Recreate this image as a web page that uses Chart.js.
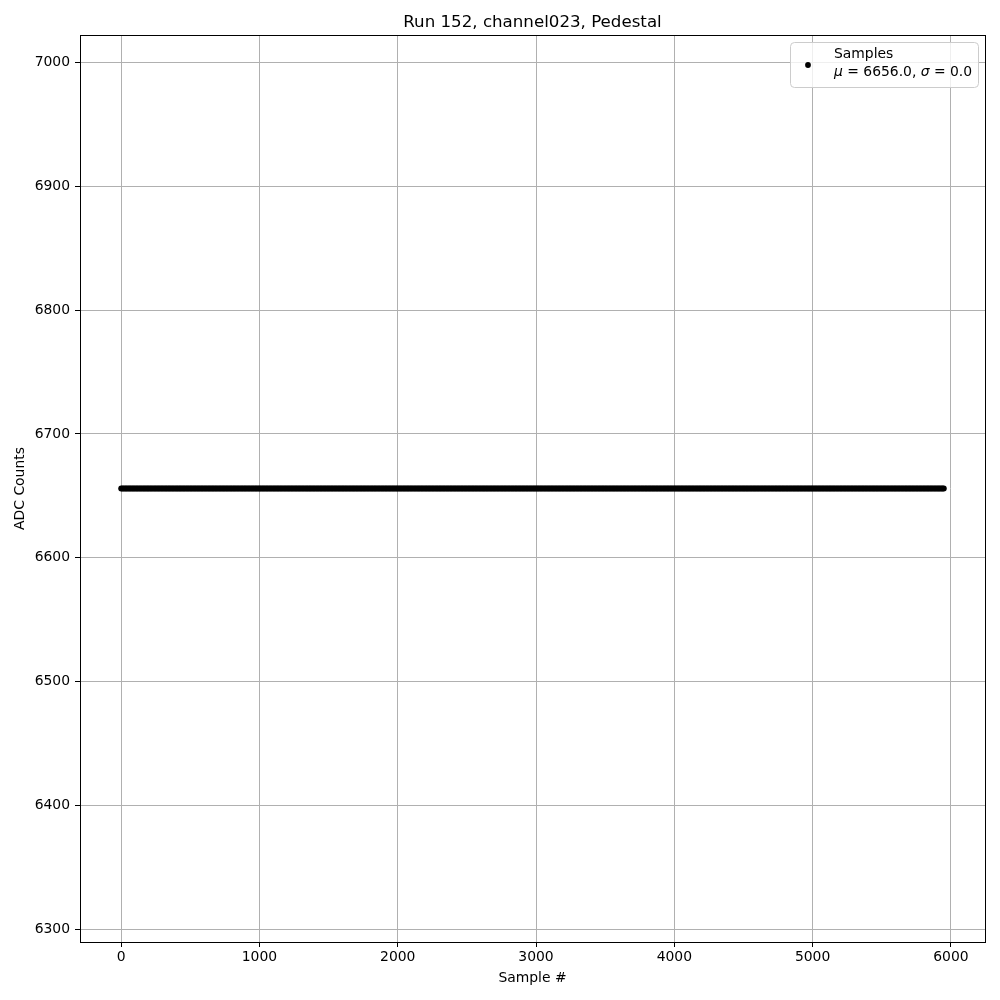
<!DOCTYPE html>
<html><head><meta charset="utf-8">
<script src="https://cdn.jsdelivr.net/npm/chart.js@4/dist/chart.umd.min.js"></script>
<style>html,body{margin:0;padding:0;background:#fff}canvas{display:block}</style>
</head><body>
<canvas id="c" width="1000" height="1000"></canvas>
<script>
const chartTitle = 'Run 152, channel023, Pedestal';
const xAxisLabel = 'Sample #';
const yAxisLabel = 'ADC Counts';
const seriesLabel = 'Samples';
const xTicks = [0, 1000, 2000, 3000, 4000, 5000, 6000];
const yTicks = [6300, 6400, 6500, 6600, 6700, 6800, 6900, 7000];
const xLimits = [-297.45, 6246.45];
const yLimits = [6289.9, 7022.1];

// Sample numbers (every 10th sample shown, plus the last one)
const sampleNumbers = [
0,10,20,30,40,50,60,70,80,90,100,110,120,130,140,150,160,170,180,190,200,210,220,230,240,
250,260,270,280,290,300,310,320,330,340,350,360,370,380,390,400,410,420,430,440,450,460,470,480,490,
500,510,520,530,540,550,560,570,580,590,600,610,620,630,640,650,660,670,680,690,700,710,720,730,740,
750,760,770,780,790,800,810,820,830,840,850,860,870,880,890,900,910,920,930,940,950,960,970,980,990,
1000,1010,1020,1030,1040,1050,1060,1070,1080,1090,1100,1110,1120,1130,1140,1150,1160,1170,1180,1190,1200,1210,1220,1230,1240,
1250,1260,1270,1280,1290,1300,1310,1320,1330,1340,1350,1360,1370,1380,1390,1400,1410,1420,1430,1440,1450,1460,1470,1480,1490,
1500,1510,1520,1530,1540,1550,1560,1570,1580,1590,1600,1610,1620,1630,1640,1650,1660,1670,1680,1690,1700,1710,1720,1730,1740,
1750,1760,1770,1780,1790,1800,1810,1820,1830,1840,1850,1860,1870,1880,1890,1900,1910,1920,1930,1940,1950,1960,1970,1980,1990,
2000,2010,2020,2030,2040,2050,2060,2070,2080,2090,2100,2110,2120,2130,2140,2150,2160,2170,2180,2190,2200,2210,2220,2230,2240,
2250,2260,2270,2280,2290,2300,2310,2320,2330,2340,2350,2360,2370,2380,2390,2400,2410,2420,2430,2440,2450,2460,2470,2480,2490,
2500,2510,2520,2530,2540,2550,2560,2570,2580,2590,2600,2610,2620,2630,2640,2650,2660,2670,2680,2690,2700,2710,2720,2730,2740,
2750,2760,2770,2780,2790,2800,2810,2820,2830,2840,2850,2860,2870,2880,2890,2900,2910,2920,2930,2940,2950,2960,2970,2980,2990,
3000,3010,3020,3030,3040,3050,3060,3070,3080,3090,3100,3110,3120,3130,3140,3150,3160,3170,3180,3190,3200,3210,3220,3230,3240,
3250,3260,3270,3280,3290,3300,3310,3320,3330,3340,3350,3360,3370,3380,3390,3400,3410,3420,3430,3440,3450,3460,3470,3480,3490,
3500,3510,3520,3530,3540,3550,3560,3570,3580,3590,3600,3610,3620,3630,3640,3650,3660,3670,3680,3690,3700,3710,3720,3730,3740,
3750,3760,3770,3780,3790,3800,3810,3820,3830,3840,3850,3860,3870,3880,3890,3900,3910,3920,3930,3940,3950,3960,3970,3980,3990,
4000,4010,4020,4030,4040,4050,4060,4070,4080,4090,4100,4110,4120,4130,4140,4150,4160,4170,4180,4190,4200,4210,4220,4230,4240,
4250,4260,4270,4280,4290,4300,4310,4320,4330,4340,4350,4360,4370,4380,4390,4400,4410,4420,4430,4440,4450,4460,4470,4480,4490,
4500,4510,4520,4530,4540,4550,4560,4570,4580,4590,4600,4610,4620,4630,4640,4650,4660,4670,4680,4690,4700,4710,4720,4730,4740,
4750,4760,4770,4780,4790,4800,4810,4820,4830,4840,4850,4860,4870,4880,4890,4900,4910,4920,4930,4940,4950,4960,4970,4980,4990,
5000,5010,5020,5030,5040,5050,5060,5070,5080,5090,5100,5110,5120,5130,5140,5150,5160,5170,5180,5190,5200,5210,5220,5230,5240,
5250,5260,5270,5280,5290,5300,5310,5320,5330,5340,5350,5360,5370,5380,5390,5400,5410,5420,5430,5440,5450,5460,5470,5480,5490,
5500,5510,5520,5530,5540,5550,5560,5570,5580,5590,5600,5610,5620,5630,5640,5650,5660,5670,5680,5690,5700,5710,5720,5730,5740,
5750,5760,5770,5780,5790,5800,5810,5820,5830,5840,5850,5860,5870,5880,5890,5900,5910,5920,5930,5940,5949
];
// ADC counts (flat pedestal at 6656)
const adcCounts = [
6656,6656,6656,6656,6656, 6656,6656,6656,6656,6656, 6656,6656,6656,6656,6656, 6656,6656,6656,6656,6656, 6656,6656,6656,6656,6656,
6656,6656,6656,6656,6656, 6656,6656,6656,6656,6656, 6656,6656,6656,6656,6656, 6656,6656,6656,6656,6656, 6656,6656,6656,6656,6656,
6656,6656,6656,6656,6656, 6656,6656,6656,6656,6656, 6656,6656,6656,6656,6656, 6656,6656,6656,6656,6656, 6656,6656,6656,6656,6656,
6656,6656,6656,6656,6656, 6656,6656,6656,6656,6656, 6656,6656,6656,6656,6656, 6656,6656,6656,6656,6656, 6656,6656,6656,6656,6656,
6656,6656,6656,6656,6656, 6656,6656,6656,6656,6656, 6656,6656,6656,6656,6656, 6656,6656,6656,6656,6656, 6656,6656,6656,6656,6656,
6656,6656,6656,6656,6656, 6656,6656,6656,6656,6656, 6656,6656,6656,6656,6656, 6656,6656,6656,6656,6656, 6656,6656,6656,6656,6656,
6656,6656,6656,6656,6656, 6656,6656,6656,6656,6656, 6656,6656,6656,6656,6656, 6656,6656,6656,6656,6656, 6656,6656,6656,6656,6656,
6656,6656,6656,6656,6656, 6656,6656,6656,6656,6656, 6656,6656,6656,6656,6656, 6656,6656,6656,6656,6656, 6656,6656,6656,6656,6656,
6656,6656,6656,6656,6656, 6656,6656,6656,6656,6656, 6656,6656,6656,6656,6656, 6656,6656,6656,6656,6656, 6656,6656,6656,6656,6656,
6656,6656,6656,6656,6656, 6656,6656,6656,6656,6656, 6656,6656,6656,6656,6656, 6656,6656,6656,6656,6656, 6656,6656,6656,6656,6656,
6656,6656,6656,6656,6656, 6656,6656,6656,6656,6656, 6656,6656,6656,6656,6656, 6656,6656,6656,6656,6656, 6656,6656,6656,6656,6656,
6656,6656,6656,6656,6656, 6656,6656,6656,6656,6656, 6656,6656,6656,6656,6656, 6656,6656,6656,6656,6656, 6656,6656,6656,6656,6656,
6656,6656,6656,6656,6656, 6656,6656,6656,6656,6656, 6656,6656,6656,6656,6656, 6656,6656,6656,6656,6656, 6656,6656,6656,6656,6656,
6656,6656,6656,6656,6656, 6656,6656,6656,6656,6656, 6656,6656,6656,6656,6656, 6656,6656,6656,6656,6656, 6656,6656,6656,6656,6656,
6656,6656,6656,6656,6656, 6656,6656,6656,6656,6656, 6656,6656,6656,6656,6656, 6656,6656,6656,6656,6656, 6656,6656,6656,6656,6656,
6656,6656,6656,6656,6656, 6656,6656,6656,6656,6656, 6656,6656,6656,6656,6656, 6656,6656,6656,6656,6656, 6656,6656,6656,6656,6656,
6656,6656,6656,6656,6656, 6656,6656,6656,6656,6656, 6656,6656,6656,6656,6656, 6656,6656,6656,6656,6656, 6656,6656,6656,6656,6656,
6656,6656,6656,6656,6656, 6656,6656,6656,6656,6656, 6656,6656,6656,6656,6656, 6656,6656,6656,6656,6656, 6656,6656,6656,6656,6656,
6656,6656,6656,6656,6656, 6656,6656,6656,6656,6656, 6656,6656,6656,6656,6656, 6656,6656,6656,6656,6656, 6656,6656,6656,6656,6656,
6656,6656,6656,6656,6656, 6656,6656,6656,6656,6656, 6656,6656,6656,6656,6656, 6656,6656,6656,6656,6656, 6656,6656,6656,6656,6656,
6656,6656,6656,6656,6656, 6656,6656,6656,6656,6656, 6656,6656,6656,6656,6656, 6656,6656,6656,6656,6656, 6656,6656,6656,6656,6656,
6656,6656,6656,6656,6656, 6656,6656,6656,6656,6656, 6656,6656,6656,6656,6656, 6656,6656,6656,6656,6656, 6656,6656,6656,6656,6656,
6656,6656,6656,6656,6656, 6656,6656,6656,6656,6656, 6656,6656,6656,6656,6656, 6656,6656,6656,6656,6656, 6656,6656,6656,6656,6656,
6656,6656,6656,6656,6656, 6656,6656,6656,6656,6656, 6656,6656,6656,6656,6656, 6656,6656,6656,6656,6656, 6656
];

const nPts = Math.min(sampleNumbers.length, adcCounts.length);
const points = [];
for (let i = 0; i < nPts; i++) points.push({x: sampleNumbers[i], y: adcCounts[i]});

const mean = adcCounts.reduce((a, b) => a + b, 0) / adcCounts.length;
const sigma = Math.sqrt(adcCounts.reduce((a, b) => a + (b - mean) * (b - mean), 0) / adcCounts.length);

const FONT = 'DejaVu Sans';
const FS = 13.9;
Chart.defaults.font.family = FONT;
Chart.defaults.font.size = FS;
Chart.defaults.color = '#000';

const decor = {
  id: 'decor',
  afterDraw(chart) {
    const ctx = chart.ctx, ca = chart.chartArea;
    ctx.save();
    // top & right spines
    ctx.strokeStyle = '#000'; ctx.lineWidth = 1;
    ctx.beginPath();
    ctx.moveTo(Math.round(ca.left), Math.round(ca.top) + 0.5);
    ctx.lineTo(Math.round(ca.right) + 1, Math.round(ca.top) + 0.5);
    ctx.moveTo(Math.round(ca.right) + 0.5, Math.round(ca.top));
    ctx.lineTo(Math.round(ca.right) + 0.5, Math.round(ca.bottom) + 1);
    ctx.stroke();
    // title
    ctx.fillStyle = '#000';
    ctx.font = '16.67px ' + FONT;
    ctx.textAlign = 'center'; ctx.textBaseline = 'alphabetic';
    ctx.fillText(chartTitle, (ca.left + ca.right) / 2, 27);
    // legend box
    const bx = 790.5, by = 42.5, bw = 188, bh = 45, r = 4;
    ctx.beginPath();
    ctx.moveTo(bx + r, by);
    ctx.lineTo(bx + bw - r, by); ctx.arcTo(bx + bw, by, bx + bw, by + r, r);
    ctx.lineTo(bx + bw, by + bh - r); ctx.arcTo(bx + bw, by + bh, bx + bw - r, by + bh, r);
    ctx.lineTo(bx + r, by + bh); ctx.arcTo(bx, by + bh, bx, by + bh - r, r);
    ctx.lineTo(bx, by + r); ctx.arcTo(bx, by, bx + r, by, r);
    ctx.closePath();
    ctx.fillStyle = 'rgba(255,255,255,0.8)'; ctx.fill();
    ctx.strokeStyle = '#cccccc'; ctx.stroke();
    // marker
    ctx.fillStyle = '#000';
    ctx.beginPath(); ctx.arc(808, 65, 2.9, 0, Math.PI * 2); ctx.fill();
    // text
    ctx.textAlign = 'left';
    ctx.font = FS + 'px ' + FONT;
    ctx.fillText(seriesLabel, 834, 58);
    const segs = [
      ['μ', true], [' = ' + mean.toFixed(1) + ', ', false],
      ['σ', true], [' = ' + sigma.toFixed(1), false]
    ];
    let tx = 834;
    for (const [t, it] of segs) {
      ctx.font = (it ? 'italic ' : '') + FS + 'px ' + FONT;
      ctx.fillText(t, tx, 76);
      tx += ctx.measureText(t).width;
    }
    ctx.restore();
  }
};

const gridOpts = {color: '#b0b0b0', lineWidth: 1, tickColor: '#000', tickLength: 5, tickWidth: 1, drawTicks: true};

new Chart(document.getElementById('c'), {
  type: 'scatter',
  data: {
    datasets: [{
      label: seriesLabel,
      data: points,
      showLine: false,
      backgroundColor: '#000',
      borderColor: '#000',
      pointRadius: 2.9,
      pointBorderWidth: 0,
      pointHoverRadius: 2.9
    }]
  },
  options: {
    responsive: false,
    animation: false,
    events: [],
    layout: {padding: {top: 35, right: 15, left: 0, bottom: 0}, autoPadding: false},
    plugins: {legend: {display: false}, title: {display: false}, tooltip: {enabled: false}},
    scales: {
      x: {
        type: 'linear', position: 'bottom',
        min: xLimits[0], max: xLimits[1],
        afterBuildTicks: s => { s.ticks = xTicks.map(v => ({value: v})); },
        afterFit: s => { s.height = 58; },
        ticks: {color: '#000', padding: 2, maxRotation: 0, autoSkip: false, callback: v => String(v)},
        grid: gridOpts,
        border: {color: '#000', width: 1},
        title: {display: true, text: xAxisLabel, color: '#000', font: {size: FS}, padding: {top: 0, bottom: 13}}
      },
      y: {
        type: 'linear', position: 'left',
        min: yLimits[0], max: yLimits[1],
        afterBuildTicks: s => { s.ticks = yTicks.map(v => ({value: v})); },
        afterFit: s => { s.width = 80; },
        ticks: {color: '#000', padding: 5, autoSkip: false, callback: v => String(v)},
        grid: gridOpts,
        border: {color: '#000', width: 1},
        title: {display: true, text: yAxisLabel, color: '#000', font: {size: FS}, padding: {top: 12, bottom: 0}}
      }
    }
  },
  plugins: [decor]
});
</script>
</body></html>
